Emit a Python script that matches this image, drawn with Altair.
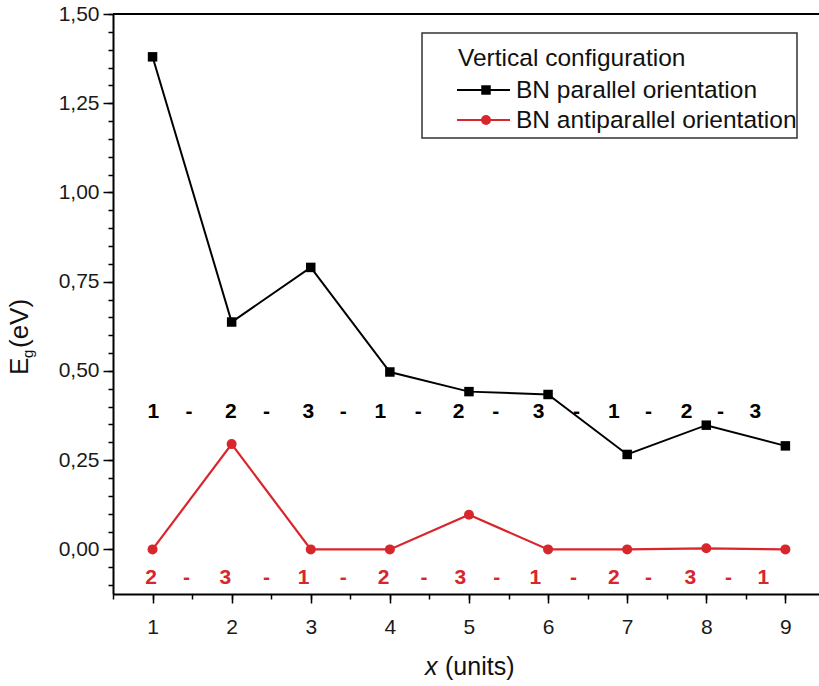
import altair as alt
import pandas as pd

# ---- data -------------------------------------------------------------
x_units = [1, 2, 3, 4, 5, 6, 7, 8, 9]
eg_parallel = [1.38, 0.637, 0.79, 0.497, 0.442, 0.434, 0.266, 0.348, 0.29]
eg_antiparallel = [0.0, 0.295, 0.0, 0.0, 0.097, 0.0, 0.0, 0.003, 0.0]

# stacking sequences written along each curve
seq_parallel = ["1", "2", "3", "1", "2", "3", "1", "2", "3"]
seq_parallel_x = [1.01, 1.99, 2.97, 3.88, 4.87, 5.88, 6.83, 7.75, 8.62]
seq_parallel_dash_x = [1.46, 2.44, 3.41, 4.36, 5.34, 6.36, 7.27, 8.18]
seq_parallel_y = 0.385

seq_anti = ["2", "3", "1", "2", "3", "1", "2", "3", "1"]
seq_anti_x = [0.98, 1.92, 2.91, 3.92, 4.89, 5.84, 6.83, 7.80, 8.72]
seq_anti_dash_x = [1.43, 2.44, 3.41, 4.43, 5.35, 6.32, 7.27, 8.28]
seq_anti_y = -0.079

y_major = [0.0, 0.25, 0.5, 0.75, 1.0, 1.25, 1.5]
y_minor = [round(-0.10 + 0.05 * i, 2) for i in range(33)]
x_major = [1, 2, 3, 4, 5, 6, 7, 8, 9]
x_minor = [0.5 + 0.5 * i for i in range(18)]

X_DOMAIN = [0.5, 9.425]
Y_DOMAIN = [-0.125, 1.5]

BLACK = "#000000"
RED = "#d7262c"
FONT = "Liberation Sans"

axis_style = dict(
    title=None, grid=False, labelOverlap=False, labelFlush=False,
    labelFont=FONT, labelFontSize=21, labelColor="#1a1a1a",
    domainColor=BLACK, domainWidth=2, tickColor=BLACK, tickWidth=1.5,
)

# ---- main axes (major ticks, labelled) --------------------------------
x_enc = alt.X(
    "x:Q",
    scale=alt.Scale(domain=X_DOMAIN, nice=False, zero=False),
    axis=alt.Axis(values=x_major, tickSize=9, labelPadding=13, format="d", **axis_style),
)
y_enc = alt.Y(
    "y:Q",
    scale=alt.Scale(domain=Y_DOMAIN, nice=False, zero=False),
    axis=alt.Axis(values=y_major, tickSize=10, labelPadding=4,
                  labelExpr="replace(format(datum.value, '.2f'), '.', ',')", **axis_style),
)

df_par = pd.DataFrame({"x": x_units, "y": eg_parallel})
df_anti = pd.DataFrame({"x": x_units, "y": eg_antiparallel})

par_line = alt.Chart(df_par).mark_line(color=BLACK, strokeWidth=2).encode(x=x_enc, y=y_enc)
par_pts = alt.Chart(df_par).mark_square(color=BLACK, size=90, opacity=1).encode(x="x:Q", y="y:Q")
anti_line = alt.Chart(df_anti).mark_line(color=RED, strokeWidth=2.2).encode(x="x:Q", y="y:Q")
anti_pts = alt.Chart(df_anti).mark_circle(color=RED, size=100, opacity=1).encode(x="x:Q", y="y:Q")

# frame line along the top
top_rule = alt.Chart(pd.DataFrame({"y": [1.5]})).mark_rule(color=BLACK, strokeWidth=2).encode(y="y:Q")


def seq_layer(labels, xs, dash_xs, yv, color):
    rows = [{"x": xv, "y": yv, "t": t} for xv, t in zip(xs, labels)]
    rows += [{"x": xv, "y": yv, "t": "-"} for xv in dash_xs]
    return alt.Chart(pd.DataFrame(rows)).mark_text(
        font=FONT, fontSize=21, fontWeight="bold", color=color,
        align="center", baseline="middle",
    ).encode(x="x:Q", y="y:Q", text="t:N")


seq_par = seq_layer(seq_parallel, seq_parallel_x, seq_parallel_dash_x, seq_parallel_y, BLACK)
seq_ant = seq_layer(seq_anti, seq_anti_x, seq_anti_dash_x, seq_anti_y, RED)

# ---- legend -----------------------------------------------------------
one = pd.DataFrame({"a": [0]})
leg_box = alt.Chart(one).mark_rect(fill="white", stroke="#333333", strokeWidth=1.5).encode(
    x=alt.value(309), x2=alt.value(684), y=alt.value(19), y2=alt.value(124))


def leg_text(txt, px, py):
    return alt.Chart(one).mark_text(
        font=FONT, fontSize=24.5, color="#111111", align="left", baseline="alphabetic"
    ).encode(x=alt.value(px), y=alt.value(py), text=alt.value(txt))


leg_title = leg_text("Vertical configuration", 345, 52)
leg_txt1 = leg_text("BN parallel orientation", 403, 84)
leg_txt2 = leg_text("BN antiparallel orientation", 403, 114)
leg_line1 = alt.Chart(one).mark_rule(color=BLACK, strokeWidth=2).encode(
    x=alt.value(344), x2=alt.value(397), y=alt.value(76))
leg_pt1 = alt.Chart(one).mark_square(color=BLACK, size=90, opacity=1).encode(
    x=alt.value(373), y=alt.value(76))
leg_line2 = alt.Chart(one).mark_rule(color=RED, strokeWidth=2).encode(
    x=alt.value(344), x2=alt.value(397), y=alt.value(106))
leg_pt2 = alt.Chart(one).mark_circle(color=RED, size=100, opacity=1).encode(
    x=alt.value(373), y=alt.value(106))


# ---- axis titles (with subscript / italic parts) ----------------------
def title_piece(txt, px, py, size, angle=0, style="normal"):
    return alt.Chart(one).mark_text(
        font=FONT, fontSize=size, color="#111111", align="left",
        baseline="alphabetic", angle=angle, fontStyle=style,
    ).encode(x=alt.value(px), y=alt.value(py), text=alt.value(txt))


ytitle_E = title_piece("E", -85, 361, 26, angle=270)
ytitle_g = title_piece("g", -80, 344, 15, angle=270)
ytitle_eV = title_piece("(eV)", -85, 334, 26, angle=270)
xtitle_x = title_piece("x", 312, 661, 25, style="italic")
xtitle_u = title_piece("(units)", 332, 661, 25)

main = alt.layer(
    top_rule, par_line, par_pts, anti_line, anti_pts, seq_par, seq_ant,
    leg_box, leg_title, leg_line1, leg_pt1, leg_txt1, leg_line2, leg_pt2, leg_txt2,
    ytitle_E, ytitle_g, ytitle_eV, xtitle_x, xtitle_u,
)

# ---- minor ticks: a second, unlabelled pair of axes on the same sides ---
minor_style = dict(title=None, grid=False, domain=False, labels=False,
                   tickColor=BLACK, tickWidth=1.5, tickSize=5)
minor = alt.Chart(pd.DataFrame({"x": [1.0], "y": [0.0]})).mark_point(opacity=0).encode(
    x=alt.X("x:Q", scale=alt.Scale(domain=X_DOMAIN, nice=False, zero=False),
            axis=alt.Axis(values=x_minor, orient="bottom", **minor_style)),
    y=alt.Y("y:Q", scale=alt.Scale(domain=Y_DOMAIN, nice=False, zero=False),
            axis=alt.Axis(values=y_minor, orient="left", **minor_style)),
)

chart = alt.layer(main, minor).resolve_scale(x="independent", y="independent").properties(
    width=706, height=580,
    padding={"left": 113, "top": 14, "right": 0, "bottom": 92},
    autosize=alt.AutoSizeParams(type="none"),
).configure_view(stroke=None).configure(background="white")

chart.save("out.html", embed_options={"renderer": "svg", "actions": False})
